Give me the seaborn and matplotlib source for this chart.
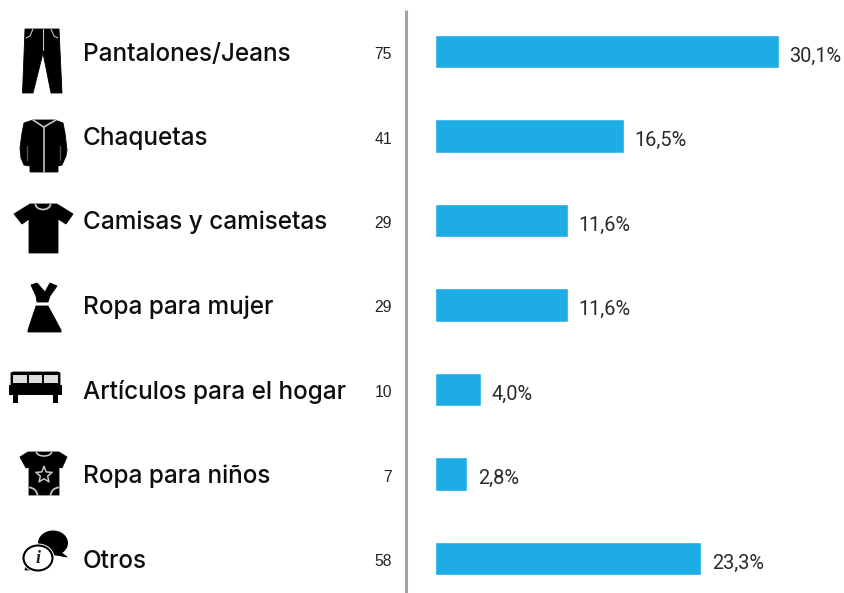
import numpy as np
import pandas as pd
import seaborn as sns
import matplotlib.pyplot as plt
from matplotlib.patches import Polygon, Ellipse, Rectangle, Arc
from matplotlib.transforms import blended_transform_factory

categories = ['Pantalones/Jeans', 'Chaquetas', 'Camisas y camisetas', 'Ropa para mujer',
              'Artículos para el hogar', 'Ropa para niños', 'Otros']
counts = [75, 41, 29, 29, 10, 7, 58]
percents = [30.1, 16.5, 11.6, 11.6, 4.0, 2.8, 23.3]

df = pd.DataFrame({'categoria': categories, 'porcentaje': percents})

sns.set_style('white')
W, H = 845, 593
fig = plt.figure(figsize=(W / 100, H / 100), dpi=100)
ax = fig.add_axes([0, 0, 1, 1])

sns.barplot(data=df, y='categoria', x='porcentaje', color='#1eace5', saturation=1,
            width=0.395, ax=ax)

# whole figure is the axes: value 0 sits at px 435.5, rows every 84.5 px
px_per_pct = 343.5 / 30.1
ax.set_xlim(-435.5 / px_per_pct, (W - 435.5) / px_per_pct)
ax.set_ylim((H - 51.5) / 84.5, -51.5 / 84.5)
ax.set_axis_off()

trans = blended_transform_factory(ax.transAxes, ax.transData)
for i, (cat, n, p) in enumerate(zip(categories, counts, percents)):
    ax.text(83 / W, i + 9 / 84.5, cat, transform=trans, va='baseline', ha='left', fontsize=17.5,
            family='Inter', weight='medium', color='#0d0d0d')
    ax.text(392 / W, i + 7.5 / 84.5, str(n), transform=trans, va='baseline', ha='right',
            fontsize=11.3, family='Liberation Sans', color='#222222')
    ax.text(p + 10.5 / px_per_pct, i + 10 / 84.5, f'{p:.1f}%'.replace('.', ','), va='baseline',
            ha='left', fontsize=14.4, family='Roboto', color='#2a2a2a')

# separator
ax.plot([406 / W, 406 / W], [1 - 10 / H, 0], transform=ax.transAxes, color='#a3a3a3', lw=2.2,
        solid_capstyle='butt', clip_on=False)

# icons drawn in pixel coordinates on an overlay
ic = fig.add_axes([0, 0, 1, 1], facecolor='none')
ic.set_xlim(0, W)
ic.set_ylim(H, 0)
ic.set_axis_off()


def shape(points, color='black'):
    ic.add_patch(Polygon(points, closed=True, fc=color, ec=color, lw=0.6, joinstyle='round'))


def stroke(points, color='#c4c4c4', lw=1.0):
    xs, ys = zip(*points)
    ic.plot(xs, ys, color=color, lw=lw)


# pants
shape([(25, 29), (59, 29), (62, 93), (51, 93), (43, 53), (33, 93), (22.5, 93)])
stroke([(43, 29), (43, 50)], lw=0.8)
stroke([(26, 38), (30, 36), (33, 29)], lw=0.8)
stroke([(58, 38), (54, 36), (51, 29)], lw=0.8)

# jacket
shape([(33, 120), (55, 120), (63, 123), (65, 133), (67, 150), (66, 156), (62, 165), (58, 166),
       (58, 172), (30, 172), (30, 166), (24, 165), (21, 158), (20, 148), (22, 133), (24, 123)])
stroke([(43.7, 127), (43.7, 172)], lw=1.2)
stroke([(33, 120), (43.7, 127), (56, 120)], lw=1.2)
stroke([(27, 146), (27, 160)], color='#5a5a5a', lw=0.9)
stroke([(60, 146), (60, 160)], color='#5a5a5a', lw=0.9)

# shirt
shape([(30, 204), (57, 204), (73, 214), (66, 224), (58, 219), (58, 253), (29, 253), (29, 219),
       (22, 224), (14, 214)])
ic.add_patch(Arc((43, 204), 15, 11, theta1=0, theta2=180, color='#c4c4c4', lw=1.3))

# dress
shape([(31, 285), (37, 283), (45, 292), (50, 283), (57, 286), (50, 296), (48, 302), (37, 302),
       (36, 296)])
shape([(36, 306), (48, 306), (61, 330), (61, 332), (28, 332), (28, 330)])

# bed
shape([(11, 373), (13, 372), (58, 372), (60, 373), (60, 385), (11, 385)])
for x0, w in ((13, 14), (29, 13), (44, 14)):
    ic.add_patch(Rectangle((x0, 375), w, 8, fc='#dddddd', ec='none'))
ic.add_patch(Rectangle((9, 385), 53, 10, fc='black', ec='none'))
ic.add_patch(Rectangle((13, 395), 5, 8, fc='black', ec='none'))
ic.add_patch(Rectangle((53, 395), 5, 8, fc='black', ec='none'))

# onesie
shape([(28, 452), (59, 452), (67, 457), (62, 468), (59, 467), (59, 495), (29, 495), (29, 467),
       (26, 468), (20, 457)])
ic.add_patch(Arc((44, 452), 15, 8, theta1=0, theta2=180, color='#c4c4c4', lw=1.2))
ang = np.deg2rad(np.arange(-90, 270, 36))
rad = np.tile([8.5, 3.8], 5)
stroke(list(zip(44 + rad * np.cos(ang), 475 + rad * np.sin(ang))) + [(44, 466.5)], lw=1.1)
ic.add_patch(Arc((29, 496), 17, 17, theta1=270, theta2=360, color='#c4c4c4', lw=1.3))
ic.add_patch(Arc((59, 496), 17, 17, theta1=180, theta2=270, color='#c4c4c4', lw=1.3))

# chat bubbles
ic.add_patch(Ellipse((53, 543), 30, 25, fc='black', ec='none'))
shape([(58, 550), (67, 557), (56, 555)])
ic.add_patch(Ellipse((38, 558), 33, 29, fc='white', ec='none', zorder=3))
ic.add_patch(Ellipse((38, 558), 29, 25, fc='white', ec='black', lw=1.5, zorder=3))
shape([(26, 566), (32, 570), (25, 570)])
ic.text(38.5, 558.5, 'i', ha='center', va='center', fontsize=13, family='Liberation Serif',
        style='italic', weight='bold', zorder=4)

fig.savefig('out.png', dpi=100)
